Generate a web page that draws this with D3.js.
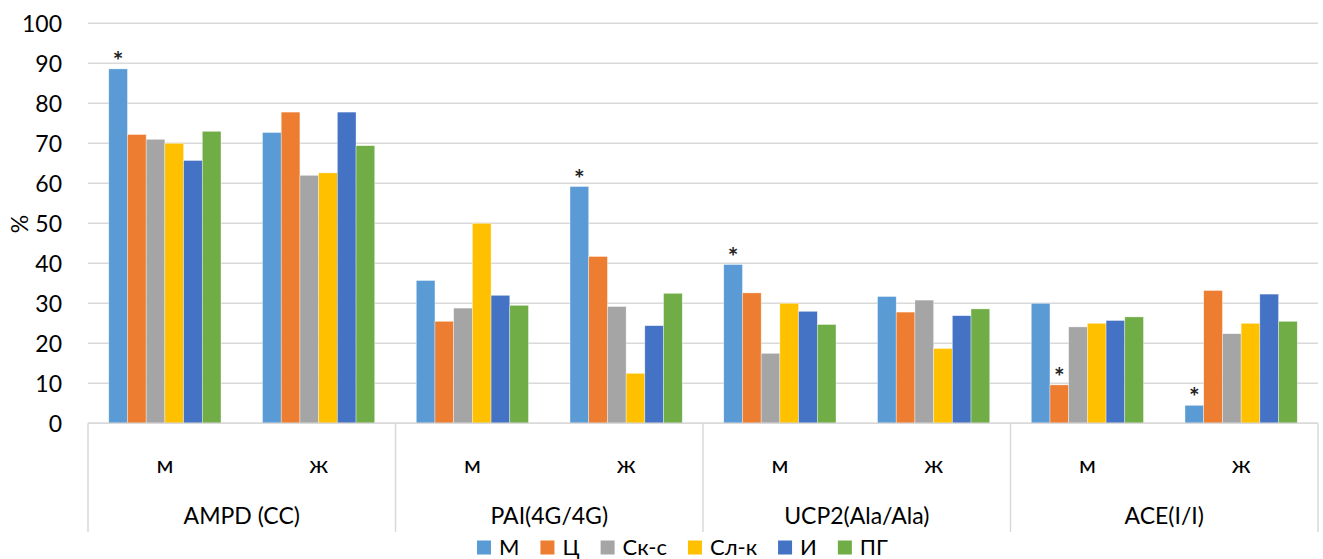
<!DOCTYPE html>
<html>
<head>
<meta charset="utf-8">
<script src="https://cdn.jsdelivr.net/npm/d3@7"></script>
<style>
  html, body { margin: 0; padding: 0; background: #fff; }
  svg { display: block; font-family: Lato, "Open Sans", sans-serif; }
</style>
</head>
<body>
<svg id="chart" width="1323" height="559"></svg>
<script>
// Genotype groups and sex subgroups on the category axis
const genes = ["AMPD (CC)", "PAI(4G/4G)", "UCP2(Ala/Ala)", "ACE(I/I)"];
const sexes = ["м", "ж"];

// Series (legend order)
const seriesNames = ["М", "Ц", "Ск-с", "Сл-к", "И", "ПГ"];
const seriesColors = ["#5B9BD5", "#ED7D31", "#A5A5A5", "#FFC000", "#4472C4", "#70AD47"];

// Percent values per series, ordered gene by gene, м then ж
const valM    = [88.6, 72.7, 35.7, 59.2, 39.7, 31.7, 30.0, 4.5];
const valTs   = [72.2, 77.8, 25.5, 41.7, 32.6, 27.8, 9.6, 33.2];
const valSks  = [71.0, 62.0, 28.8, 29.2, 17.5, 30.8, 24.1, 22.4];
const valSlk  = [70.0, 62.6, 50.0, 12.5, 30.0, 18.7, 25.0, 25.0];
const valI    = [65.7, 77.8, 32.0, 24.4, 28.0, 26.9, 25.7, 32.3];
const valPG   = [73.0, 69.4, 29.5, 32.5, 24.7, 28.6, 26.6, 25.5];
const seriesValues = [valM, valTs, valSks, valSlk, valI, valPG];

// Significant differences: [subgroup index, series index]
const significant = [[0, 0], [3, 0], [4, 0], [6, 1], [7, 0]];

const yTicks = [0, 10, 20, 30, 40, 50, 60, 70, 80, 90, 100];

const svg = d3.select("#chart");
const plotLeft = 88, plotRight = 1318, plotTop = 23.3, plotBottom = 423.3;
const axisBottom = 532;
const gridColor = "#d9d9d9";
const textColor = "#000";

const subgroups = [];
genes.forEach((g, gi) => sexes.forEach((s, si) => subgroups.push({ gene: g, sex: s, key: gi + "-" + si })));

const y = d3.scaleLinear().domain([0, 100]).range([plotBottom, plotTop]);
const xGene = d3.scaleBand().domain(genes).range([plotLeft, plotRight]).padding(0);
const xSub = d3.scaleBand().domain(subgroups.map(d => d.key)).range([plotLeft, plotRight]).padding(0);
const xSeries = d3.scaleBand().domain(seriesNames).range([0, xSub.bandwidth()])
  .paddingInner(0).paddingOuter(1.11);

// Horizontal gridlines
svg.append("g").selectAll("line").data(yTicks).join("line")
  .attr("x1", plotLeft).attr("x2", plotRight)
  .attr("y1", d => y(d)).attr("y2", d => y(d))
  .attr("stroke", gridColor).attr("stroke-width", 1.5);

// Y tick labels
svg.append("g").selectAll("text").data(yTicks).join("text")
  .attr("x", 62).attr("y", d => y(d))
  .attr("text-anchor", "end").attr("dominant-baseline", "central")
  .attr("font-size", 23).attr("fill", textColor)
  .text(d => d);

// Y axis title
svg.append("text")
  .attr("transform", `translate(19,224) rotate(-90)`)
  .attr("text-anchor", "middle").attr("dominant-baseline", "central")
  .attr("font-size", 23).attr("fill", textColor)
  .text("%");

// Bars
const barsG = svg.append("g");
seriesNames.forEach((name, si) => {
  barsG.append("g").selectAll("rect").data(seriesValues[si]).join("rect")
    .attr("x", (d, i) => xSub(subgroups[i].key) + xSeries(name))
    .attr("width", xSeries.bandwidth())
    .attr("y", d => y(d))
    .attr("height", d => y(0) - y(d))
    .attr("fill", seriesColors[si])
    .attr("stroke", "#fff").attr("stroke-width", 0.6).attr("stroke-opacity", 0.6);
});

// Significance marks
svg.append("g").selectAll("text").data(significant).join("text")
  .attr("x", d => xSub(subgroups[d[0]].key) + xSeries(seriesNames[d[1]]) + xSeries.bandwidth() / 2)
  .attr("y", d => y(seriesValues[d[1]][d[0]]) + 1)
  .attr("text-anchor", "middle")
  .attr("font-size", 25).attr("font-weight", "bold").attr("fill", "#222")
  .text("*");

// Category axis: baseline and group dividers
svg.append("line")
  .attr("x1", plotLeft).attr("x2", plotRight).attr("y1", plotBottom).attr("y2", plotBottom)
  .attr("stroke", gridColor).attr("stroke-width", 1.5);
const dividers = genes.map(g => xGene(g)).concat([plotRight]);
svg.append("g").selectAll("line").data(dividers).join("line")
  .attr("x1", d => d).attr("x2", d => d)
  .attr("y1", plotBottom).attr("y2", axisBottom)
  .attr("stroke", gridColor).attr("stroke-width", 1.5);

// Sex labels
svg.append("g").selectAll("text").data(subgroups).join("text")
  .attr("x", d => xSub(d.key) + xSub.bandwidth() / 2)
  .attr("y", 463)
  .attr("text-anchor", "middle").attr("dominant-baseline", "central")
  .attr("font-size", 24).attr("fill", textColor)
  .text(d => d.sex);

// Gene labels
svg.append("g").selectAll("text").data(genes).join("text")
  .attr("x", d => xGene(d) + xGene.bandwidth() / 2)
  .attr("y", 515)
  .attr("text-anchor", "middle").attr("dominant-baseline", "central")
  .attr("font-size", 23).attr("fill", textColor)
  .text(d => d);

// Legend
const legend = svg.append("g");
let lx = 477;
seriesNames.forEach((name, i) => {
  legend.append("rect")
    .attr("x", lx).attr("y", 540.5).attr("width", 14).attr("height", 14)
    .attr("fill", seriesColors[i]);
  const t = legend.append("text")
    .attr("x", lx + 22).attr("y", 555)
    .attr("font-size", 22).attr("fill", textColor)
    .text(name);
  lx += 22 + t.node().getComputedTextLength() + 21;
});
</script>
</body>
</html>
